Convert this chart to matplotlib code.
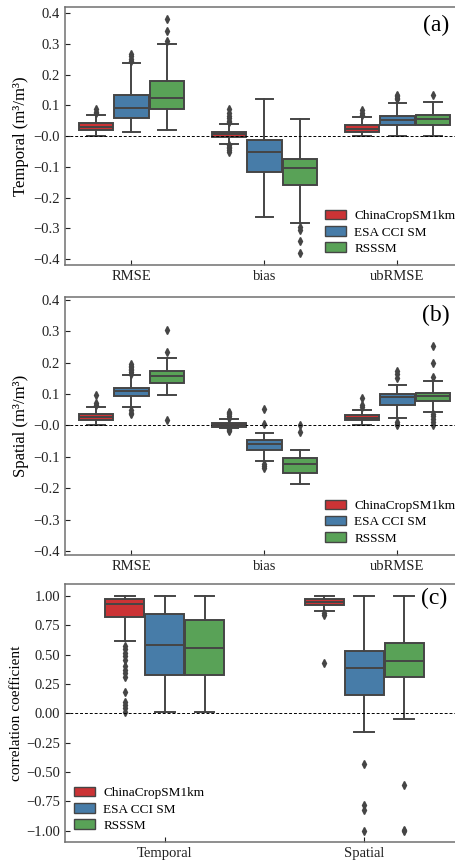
import matplotlib
matplotlib.use("Agg")
import matplotlib.pyplot as plt
from matplotlib.patches import Patch
import seaborn as sns
import numpy as np

plt.rcParams["font.family"] = ["Liberation Serif", "DejaVu Serif"]
plt.rcParams["axes.unicode_minus"] = True

datasets = ["ChinaCropSM1km", "ESA CCI SM", "RSSSM"]
metrics = ["RMSE", "bias", "ubRMSE"]
scales = ["Temporal", "Spatial"]

# panel (a) temporal, rows = dataset, cols = metric
tem_whislo = [[0.000, -0.025, 0.000], [0.015, -0.263, 0.002], [0.019, -0.283, 0.002]]
tem_q1 = [[0.020, -0.003, 0.015], [0.060, -0.118, 0.036], [0.088, -0.160, 0.037]]
tem_med = [[0.031, 0.006, 0.024], [0.091, -0.052, 0.053], [0.124, -0.104, 0.056]]
tem_q3 = [[0.042, 0.015, 0.035], [0.134, -0.012, 0.064], [0.178, -0.074, 0.069]]
tem_whishi = [[0.069, 0.040, 0.062], [0.239, 0.122, 0.109], [0.300, 0.057, 0.111]]
tem_fliers = [
    [[0.075, 0.080, 0.088],
     [0.045, 0.050, 0.060, 0.065, 0.075, 0.087, -0.030, -0.035, -0.040, -0.045, -0.050],
     [0.070, 0.075, 0.085]],
    [[0.245, 0.250, 0.262, 0.267], [], [0.120, 0.125, 0.130, 0.135]],
    [[0.310, 0.343, 0.381], [-0.295, -0.305, -0.340, -0.380], [0.133]],
]

# panel (b) spatial
spa_whislo = [[0.002, -0.009, 0.000], [0.058, -0.114, 0.023], [0.096, -0.186, 0.043]]
spa_q1 = [[0.018, -0.005, 0.016], [0.092, -0.078, 0.066], [0.135, -0.152, 0.077]]
spa_med = [[0.027, 0.002, 0.023], [0.109, -0.058, 0.090], [0.157, -0.124, 0.092]]
spa_q3 = [[0.035, 0.0085, 0.032], [0.120, -0.048, 0.099], [0.173, -0.103, 0.103]]
spa_whishi = [[0.058, 0.019, 0.048], [0.159, -0.023, 0.130], [0.215, -0.078, 0.140]]
spa_fliers = [
    [[0.065, 0.070, 0.096],
     [0.025, 0.030, 0.035, 0.040, 0.042, -0.012, -0.015, -0.018],
     [0.060, 0.065, 0.088]],
    [[0.165, 0.170, 0.175, 0.180, 0.185, 0.190, 0.195, 0.035, 0.040, 0.048],
     [0.051, 0.005, -0.122, -0.128, -0.135],
     [0.152, 0.165, 0.172, 0.000, 0.005, 0.010]],
    [[0.233, 0.303, 0.016], [0.002, -0.021],
     [0.155, 0.200, 0.253, 0.000, 0.010, 0.020, 0.030, 0.035]],
]

# panel (c) correlation, rows = dataset, cols = scale
cor_whislo = [[0.612, 0.868], [0.009, -0.162], [0.009, -0.048]]
cor_q1 = [[0.820, 0.925], [0.327, 0.159], [0.327, 0.307]]
cor_med = [[0.933, 0.947], [0.583, 0.384], [0.555, 0.444]]
cor_q3 = [[0.976, 0.970], [0.848, 0.526], [0.791, 0.600]]
cor_whishi = [[1.0, 1.0], [1.0, 1.0], [1.0, 1.0]]
cor_fliers = [
    [[0.569, 0.543, 0.515, 0.484, 0.450, 0.400, 0.370, 0.341, 0.307, 0.185, 0.100, 0.071, 0.043, 0.014],
     [0.850, 0.835, 0.427]],
    [[], [-0.430, -0.780, -0.820, -1.000]],
    [[], [-0.610, -0.990, -1.000]],
]

colors = [sns.desaturate(c, 0.75) for c in sns.color_palette("Set1", 3)]
line = "#454545"


def draw_panel(ax, cats, lo, q1, med, q3, hi, fl, group_w):
    x = np.arange(len(cats))
    w = group_w / 3
    for i in range(3):
        stats = []
        for j in range(len(cats)):
            stats.append(dict(whislo=lo[i][j], q1=q1[i][j], med=med[i][j],
                              q3=q3[i][j], whishi=hi[i][j], fliers=fl[i][j]))
        ax.bxp(stats, positions=x + (i - 1) * w, widths=w * 0.98, patch_artist=True,
               manage_ticks=False,
               boxprops=dict(facecolor=colors[i], edgecolor=line, linewidth=1.4),
               medianprops=dict(color=line, linewidth=1.4),
               whiskerprops=dict(color=line, linewidth=1.4),
               capprops=dict(color=line, linewidth=1.4),
               flierprops=dict(marker="d", markerfacecolor=line, markeredgecolor=line,
                               markersize=4, linestyle="none"))
    ax.set_xticks(x)
    ax.set_xticklabels(cats)
    ax.set_xlim(-0.5, len(cats) - 0.5)
    ax.axhline(0, color="black", linestyle="--", linewidth=0.7, dashes=(3, 2))
    ax.tick_params(direction="in", labelsize=10.5, colors="#222222")
    for s in ax.spines.values():
        s.set_color("#707070")
        s.set_linewidth(1.1)
    ax.spines["right"].set_visible(False)


fig = plt.figure(figsize=(4.56, 8.63), dpi=100)
ax_a = fig.add_axes([0.1425, 0.6929, 0.875, 0.299])
ax_b = fig.add_axes([0.1425, 0.3569, 0.875, 0.299])
ax_c = fig.add_axes([0.1425, 0.0243, 0.875, 0.299])

draw_panel(ax_a, metrics, tem_whislo, tem_q1, tem_med, tem_q3, tem_whishi, tem_fliers, 0.8)
draw_panel(ax_b, metrics, spa_whislo, spa_q1, spa_med, spa_q3, spa_whishi, spa_fliers, 0.8)
draw_panel(ax_c, scales, cor_whislo, cor_q1, cor_med, cor_q3, cor_whishi, cor_fliers, 0.6)

ax_a.set_ylim(-0.419, 0.42)
ax_b.set_ylim(-0.413, 0.409)
ax_c.set_ylim(-1.095, 1.1)
for ax in (ax_a, ax_b):
    ax.set_yticks(np.arange(-0.4, 0.41, 0.1))
    ax.set_yticklabels([f"{v:.1f}".replace("-", "\u2212") for v in np.arange(-0.4, 0.41, 0.1)])
cticks = np.arange(-1.0, 1.01, 0.25)
ax_c.set_yticks(cticks)
ax_c.set_yticklabels([f"{v:.2f}".replace("-", "\u2212") for v in cticks])

ax_a.set_ylabel("Temporal (m\u00b3/m\u00b3)", fontsize=12, labelpad=3)
ax_b.set_ylabel("Spatial (m\u00b3/m\u00b3)", fontsize=12, labelpad=3)
ax_c.set_ylabel("correlation coefficient", fontsize=11, labelpad=2)

handles = [Patch(facecolor=colors[i], edgecolor=line, linewidth=1.0, label=datasets[i]) for i in range(3)]
for ax, anchor in ((ax_a, (0.652, 0.04)), (ax_b, (0.652, 0.04)), (ax_c, (0.023, 0.04))):
    ax.legend(handles=handles, loc="lower left", bbox_to_anchor=anchor, frameon=False,
              fontsize=9.5, handlelength=1.6, handleheight=0.7, labelspacing=0.3,
              handletextpad=0.6, borderpad=0, borderaxespad=0)

ax_a.text(0.93, 0.93, "(a)", transform=ax_a.transAxes, fontsize=17, ha="center", va="center")
ax_b.text(0.93, 0.93, "(b)", transform=ax_b.transAxes, fontsize=17, ha="center", va="center")
ax_c.text(0.925, 0.945, "(c)", transform=ax_c.transAxes, fontsize=17, ha="center", va="center")

fig.savefig("out.png", dpi=100)
